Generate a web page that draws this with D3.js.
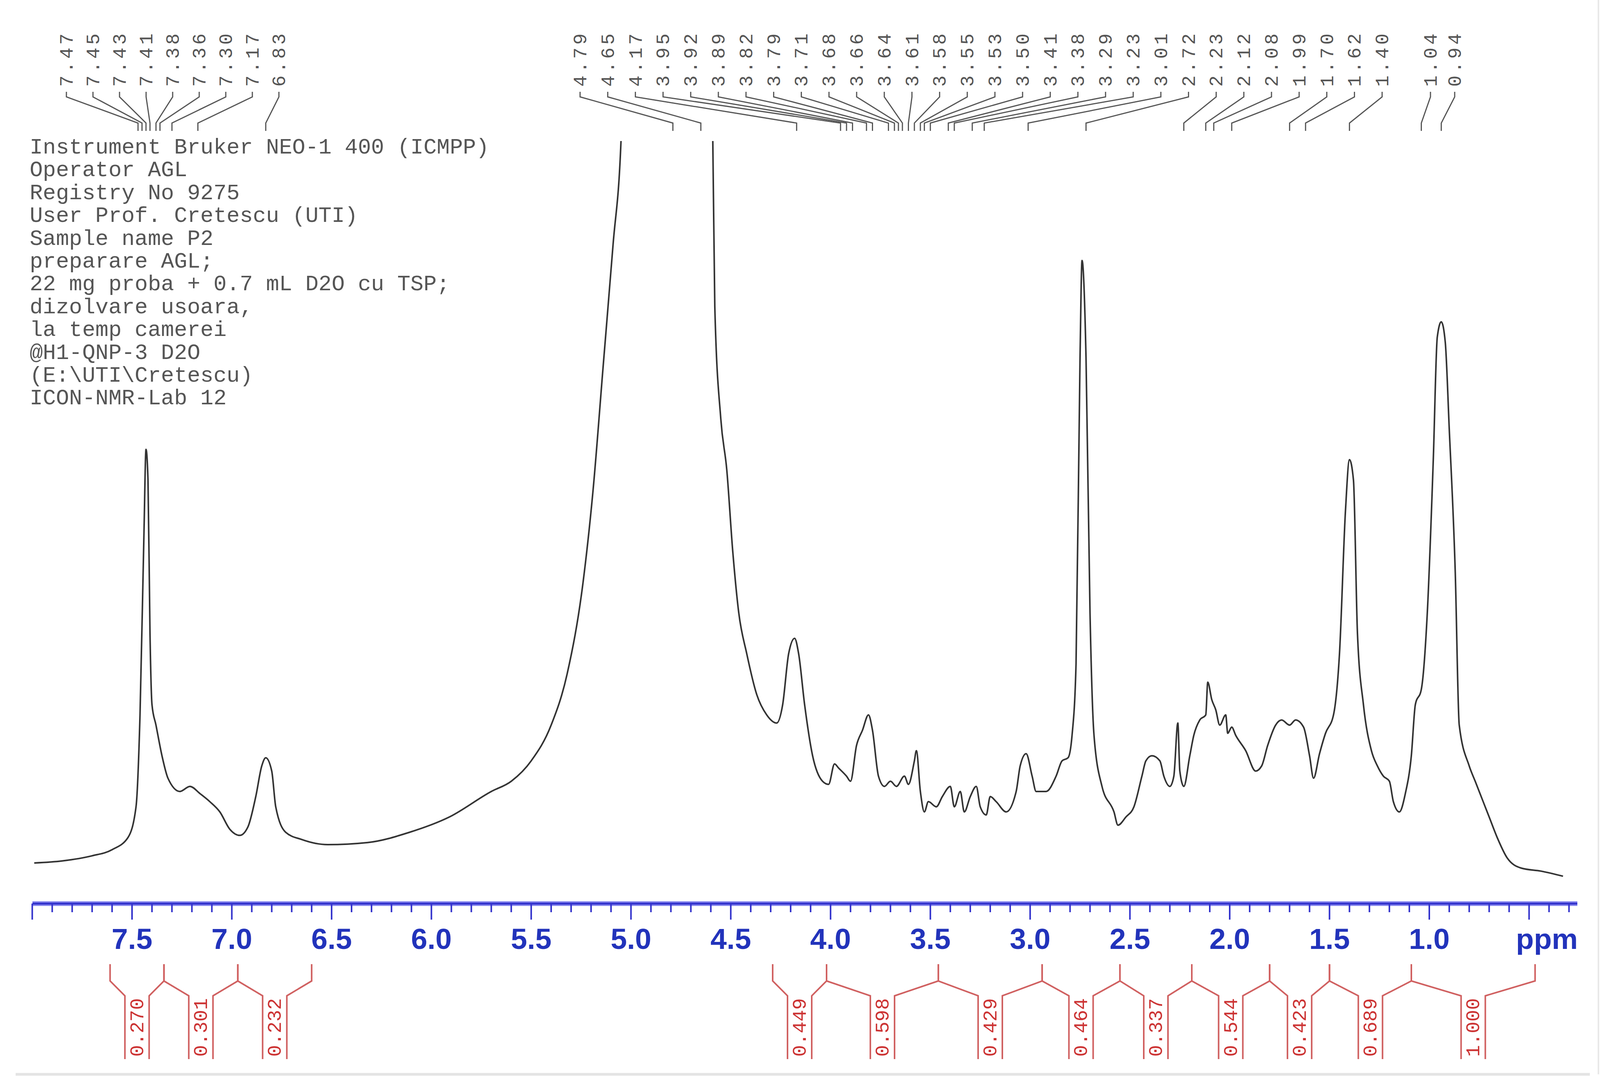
<!DOCTYPE html>
<html><head><meta charset="utf-8">
<script src="https://cdn.jsdelivr.net/npm/d3@7"></script>
<style>body{margin:0;background:#fff}</style></head>
<body><svg id="c" width="4099" height="2785"></svg>
<script>
// spectrum: chemical shift (ppm) and intensity (arbitrary units)
const specPpm = [7.99,7.85,7.70,7.60,7.52,7.48,7.46,7.44,7.43,7.42,7.41,7.40,7.38,7.35,7.32,7.26,7.21,7.16,7.11,7.06,7.01,6.96,6.92,6.88,6.85,6.83,6.80,6.78,6.73,6.65,6.52,6.32,6.11,5.91,5.70,5.60,5.50,5.40,5.32,5.24,5.19,5.14,5.09,5.05,4.99,4.84,4.68,4.59,4.58,4.55,4.52,4.49,4.46,4.42,4.37,4.32,4.27,4.24,4.21,4.18,4.16,4.13,4.09,4.04,4.01,3.98,3.96,3.92,3.90,3.87,3.84,3.81,3.79,3.76,3.73,3.70,3.67,3.63,3.61,3.58,3.57,3.55,3.53,3.51,3.47,3.44,3.40,3.38,3.35,3.33,3.30,3.27,3.25,3.22,3.20,3.17,3.12,3.07,3.05,3.02,2.99,2.97,2.92,2.87,2.84,2.81,2.79,2.77,2.75,2.74,2.72,2.70,2.68,2.64,2.58,2.56,2.52,2.48,2.44,2.42,2.39,2.35,2.33,2.30,2.28,2.26,2.25,2.23,2.20,2.18,2.15,2.12,2.11,2.09,2.07,2.05,2.02,2.01,1.99,1.97,1.92,1.87,1.84,1.81,1.77,1.74,1.70,1.67,1.63,1.60,1.58,1.55,1.52,1.48,1.45,1.42,1.40,1.38,1.36,1.33,1.29,1.26,1.23,1.20,1.18,1.15,1.12,1.09,1.07,1.04,1.01,0.98,0.96,0.94,0.92,0.90,0.87,0.85,0.80,0.77,0.73,0.70,0.66,0.61,0.54,0.44,0.33];
const specInt = [5,7,12,18,30,60,150,330,410,380,230,160,140,110,88,75,80,73,65,55,38,32,40,70,100,108,95,60,35,28,23,25,35,50,75,85,105,140,190,280,370,490,610,712,1200,1500,1200,712,550,440,390,310,250,210,170,150,142,160,210,225,210,160,110,85,82,102,98,90,85,120,135,150,135,90,80,85,80,90,82,105,115,75,55,65,60,70,80,60,75,55,70,80,60,52,70,65,55,75,100,112,90,75,75,90,105,108,130,200,500,595,500,250,130,80,55,42,50,60,90,105,110,105,90,80,90,142,95,80,110,130,145,150,182,165,155,140,150,132,138,130,115,95,100,120,140,145,140,145,138,110,88,112,132,150,210,350,400,380,230,160,115,100,90,85,65,55,73,110,160,175,250,400,520,535,515,430,290,140,100,85,65,50,30,10,0,-3,-8];
// axis ticks
const majorTicks = [7.5,7.0,6.5,6.0,5.5,5.0,4.5,4.0,3.5,3.0,2.5,2.0,1.5,1.0];
const tickLabels = ["7.5","7.0","6.5","6.0","5.5","5.0","4.5","4.0","3.5","3.0","2.5","2.0","1.5","1.0"];
// peak picking labels
const peaksLeft = ["7.47","7.45","7.43","7.41","7.38","7.36","7.30","7.17","6.83"];
const peaksRight = ["4.79","4.65","4.17","3.95","3.92","3.89","3.82","3.79","3.71","3.68","3.66","3.64","3.61","3.58","3.55","3.53","3.50","3.41","3.38","3.29","3.23","3.01","2.72","2.23","2.12","2.08","1.99","1.70","1.62","1.40"];
const peaksFar = ["1.04","0.94"];
// integration regions
const intBoundsLeft = [7.61,7.34,6.97,6.60];
const intValsLeft = ["0.270","0.301","0.232"];
const intBoundsRight = [4.29,4.02,3.46,2.94,2.55,2.19,1.80,1.50,1.09,0.47];
const intValsRight = ["0.449","0.598","0.429","0.464","0.337","0.544","0.423","0.689","1.000"];
const infoLines = ["Instrument Bruker NEO-1 400 (ICMPP)","Operator AGL","Registry No 9275","User Prof. Cretescu (UTI)","Sample name P2","preparare AGL;","22 mg proba + 0.7 mL D2O cu TSP;","dizolvare usoara,","la temp camerei","@H1-QNP-3 D2O","(E:\\UTI\\Cretescu)","ICON-NMR-Lab 12"];

const svg = d3.select("#c");
const x = d3.scaleLinear().domain([7.5,1.0]).range([338,3659]);
const y = d3.scaleLinear().domain([0,712]).range([2222,361]);

svg.append("clipPath").attr("id","clip").append("rect").attr("x",60).attr("y",361).attr("width",4000).attr("height",2000);
const pts = specPpm.map((p,i)=>[p,specInt[i]]);
svg.append("path").attr("clip-path","url(#clip)")
  .attr("d", d3.line().x(d=>x(d[0])).y(d=>y(d[1])).curve(d3.curveMonotoneX)(pts.slice().reverse()))
  .attr("fill","none").attr("stroke","#333").attr("stroke-width",4);

// info text
svg.append("g").selectAll("text").data(infoLines).join("text")
  .attr("x",76).attr("y",(d,i)=>393+i*58.4).text(d=>d)
  .attr("font-family","Liberation Mono, monospace").attr("font-size",56).attr("fill","#555");

// axis
const ax = x.copy().domain([x.invert(83), x.invert(4038)]);
const axis = svg.append("g").attr("transform","translate(0,2313)");
axis.append("line").attr("x1",83).attr("x2",4038).attr("stroke","#8888ee").attr("stroke-width",12);
axis.append("line").attr("x1",83).attr("x2",4038).attr("stroke","#3333cc").attr("stroke-width",5);
const minor = d3.range(0,78).map(i=>+(8.0-i*0.1).toFixed(1)).filter(v=>x(v)<=4040);
axis.selectAll("line.mn").data(minor).join("line").attr("class","mn")
  .attr("x1",d=>x(d)).attr("x2",d=>x(d)).attr("y1",0)
  .attr("y2",d=>Math.abs(d*2-Math.round(d*2))<1e-6?41:22)
  .attr("stroke","#3333cc").attr("stroke-width",4);
axis.selectAll("text").data(majorTicks).join("text")
  .attr("x",d=>x(d)).attr("y",116).attr("text-anchor","middle").text((d,i)=>tickLabels[i])
  .attr("font-family","Liberation Sans Narrow, Arial Narrow, sans-serif").attr("font-weight","bold")
  .attr("font-size",75).attr("fill","#2233bb");
axis.append("text").attr("x",3960).attr("y",116).attr("text-anchor","middle").text("ppm")
  .attr("font-family","Liberation Sans Narrow, Arial Narrow, sans-serif").attr("font-weight","bold")
  .attr("font-size",75).attr("fill","#2233bb");

// peak labels
function peakGroup(labels, xs){
  const g = svg.append("g");
  labels.forEach((lab,i)=>{
    const lx = xs[i], px = x(+lab);
    g.append("text").attr("transform",`translate(${lx+16},222) rotate(-90)`).text(lab)
      .attr("font-family","Liberation Mono, monospace").attr("font-size",48).attr("letter-spacing",7)
      .attr("fill","#555");
    g.append("path").attr("d",`M${lx},235 L${lx},248 L${px},315 L${px},335`)
      .attr("fill","none").attr("stroke","#555").attr("stroke-width",3);
  });
}
peakGroup(peaksLeft, peaksLeft.map((d,i)=>170+i*68));
peakGroup(peaksRight, peaksRight.map((d,i)=>1485+i*70.8));
peakGroup(peaksFar, [3662,3724]);

// integrals
function integrals(bounds, vals){
  const g = svg.append("g");
  vals.forEach((v,i)=>{
    const a = x(bounds[i]), b = x(bounds[i+1]), c=(a+b)/2;
    g.append("path").attr("d",`M${a},2468 L${a},2511 L${c-31},2549 L${c-31},2711 M${b},2468 L${b},2511 L${c+31},2549 L${c+31},2711`)
      .attr("fill","none").attr("stroke","#d06060").attr("stroke-width",4);
    g.append("text").attr("transform",`translate(${c+16},2630) rotate(-90)`).attr("text-anchor","middle").text(v)
      .attr("font-family","Liberation Mono, monospace").attr("font-size",50).attr("fill","#cc3333");
  });
}
integrals(intBoundsLeft, intValsLeft);
integrals(intBoundsRight, intValsRight);

// frame lines
svg.append("line").attr("x1",40).attr("x2",4070).attr("y1",2750).attr("y2",2750).attr("stroke","#e4e4e4").attr("stroke-width",7);
svg.append("line").attr("x1",4092).attr("x2",4092).attr("y1",0).attr("y2",2750).attr("stroke","#e8e8e8").attr("stroke-width",4);
</script></body></html>
